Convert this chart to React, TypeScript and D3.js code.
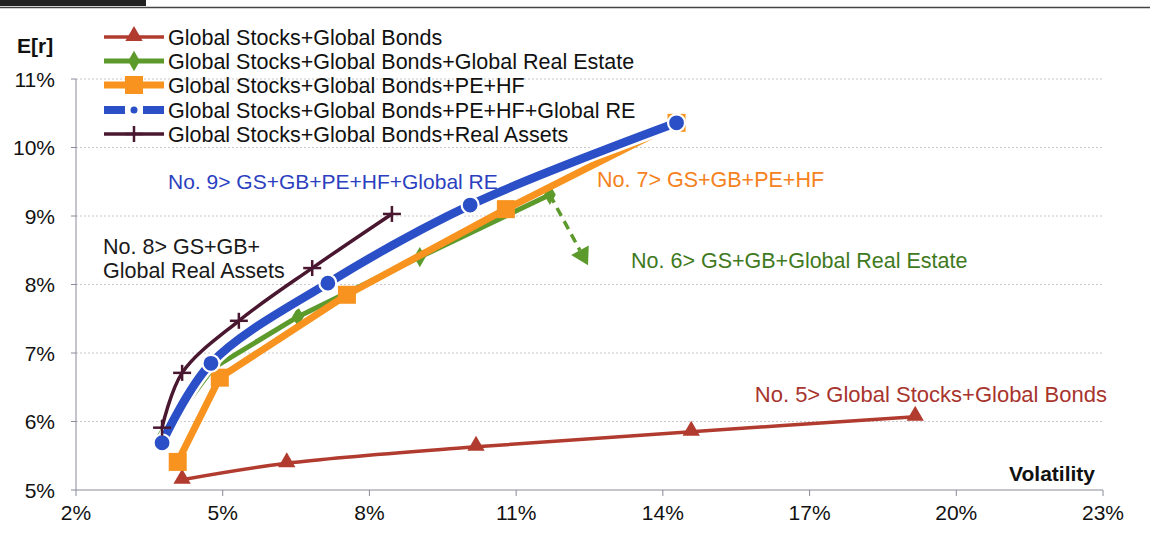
import React from "react";
import * as d3 from "d3";

// ---- data (volatility %, expected return %) ----
const xTicks = [2, 5, 8, 11, 14, 17, 20, 23];
const yTicks = [5, 6, 7, 8, 9, 10, 11];

const gsgbVol = [4.17, 6.31, 10.18, 14.58, 19.16];
const gsgbRet = [5.15, 5.39, 5.63, 5.85, 6.07];

const greVol = [3.78, 4.8, 6.54, 9.03, 11.69];
const greRet = [5.8, 6.78, 7.53, 8.4, 9.31];

const pehfVol = [4.08, 4.94, 7.54, 10.79, 14.28];
const pehfRet = [5.41, 6.64, 7.85, 9.1, 10.36];

const pehfreVol = [3.76, 4.76, 7.15, 10.06, 14.28];
const pehfreRet = [5.69, 6.85, 8.02, 9.16, 10.36];

const raVol = [3.76, 4.17, 5.33, 6.83, 8.46];
const raRet = [5.91, 6.71, 7.47, 8.24, 9.03];

const seriesNames = [
  "Global Stocks+Global Bonds",
  "Global Stocks+Global Bonds+Global Real Estate",
  "Global Stocks+Global Bonds+PE+HF",
  "Global Stocks+Global Bonds+PE+HF+Global RE",
  "Global Stocks+Global Bonds+Real Assets",
];

const arrowEnd = [12.47, 8.28];

type Pt = [number, number];
const zip = (a: number[], b: number[]): Pt[] => a.map((v, i) => [v, b[i]]);

const FONT = "'Liberation Sans', Arial, sans-serif";

const x = d3.scaleLinear().domain([2, 23]).range([76, 1103]);
const y = d3.scaleLinear().domain([5, 11]).range([490, 79]);

const COL = {
  red: "#b23b2f",
  green: "#5c9a2c",
  orange: "#f7931e",
  blue: "#2a4fc6",
  dark: "#4a1730",
};

function Marker({ kind, cx, cy }: { kind: string; cx: number; cy: number }) {
  if (kind === "tri") {
    const p = d3.symbol().type(d3.symbolTriangle).size(130)();
    return <path d={p!} transform={`translate(${cx},${cy - 1})`} fill={COL.red} />;
  }
  if (kind === "dia") {
    const p = d3.symbol().type(d3.symbolDiamond).size(120)();
    return <path d={p!} transform={`translate(${cx},${cy})`} fill={COL.green} />;
  }
  if (kind === "sq") {
    return <rect x={cx - 9} y={cy - 9} width={18} height={18} fill={COL.orange} />;
  }
  if (kind === "circ") {
    return <circle cx={cx} cy={cy} r={8.5} fill={COL.blue} stroke="#fff" strokeWidth={2.2} />;
  }
  // plus
  return (
    <g stroke={COL.dark} strokeWidth={2.5}>
      <line x1={cx - 9} x2={cx + 9} y1={cy} y2={cy} />
      <line x1={cx} x2={cx} y1={cy - 8} y2={cy + 8} />
    </g>
  );
}

export default function App() {
  const smooth = d3
    .line<Pt>()
    .x((d) => x(d[0]))
    .y((d) => y(d[1]))
    .curve(d3.curveCatmullRom.alpha(0.5));
  const straight = d3
    .line<Pt>()
    .x((d) => x(d[0]))
    .y((d) => y(d[1]));

  const red = zip(gsgbVol, gsgbRet);
  const green = zip(greVol, greRet);
  const orange = zip(pehfVol, pehfRet);
  const blue = zip(pehfreVol, pehfreRet);
  const dark = zip(raVol, raRet);

  const series = [
    { pts: red, color: COL.red, w: 3.5, kind: "tri", gen: smooth },
    { pts: green, color: COL.green, w: 5, kind: "dia", gen: straight },
    { pts: orange, color: COL.orange, w: 7, kind: "sq", gen: straight },
    { pts: blue, color: COL.blue, w: 8.5, kind: "circ", gen: smooth, halo: true },
    { pts: dark, color: COL.dark, w: 3.5, kind: "plus", gen: smooth },
  ];

  const gStart = green[green.length - 1];
  const ax1 = x(gStart[0]);
  const ay1 = y(gStart[1]);
  const ax2 = x(arrowEnd[0]);
  const ay2 = y(arrowEnd[1]);
  const ang = Math.atan2(ay2 - ay1, ax2 - ax1);
  const headLen = 17;
  const headW = 10;
  const bx = ax2 - headLen * Math.cos(ang);
  const by = ay2 - headLen * Math.sin(ang);
  const px = -Math.sin(ang);
  const py = Math.cos(ang);
  const head = `M${ax2},${ay2}L${bx + px * headW},${by + py * headW}L${bx - px * headW},${by - py * headW}Z`;

  const legendY = [37, 61, 85, 110, 134];
  const FS = 21;
  const LFS = 21.5;
  const AFS = 21.5;

  return (
    <svg
      width={1150}
      height={535}
      style={{ position: "absolute", left: 0, top: 0, background: "#fff" }}
      fontFamily={FONT}
    >
      <rect x={0} y={0} width={1150} height={535} fill="#fff" />
      {/* top decoration */}
      <rect x={0} y={0} width={146} height={6} fill="#222" />
      <line x1={0} x2={1150} y1={7.5} y2={7.5} stroke="#444" strokeWidth={1.5} />

      {/* gridlines */}
      {yTicks.slice(1).map((t) => (
        <line
          key={"g" + t}
          x1={x(2)}
          x2={x(23)}
          y1={y(t)}
          y2={y(t)}
          stroke="#c8c8c8"
          strokeWidth={1}
          strokeDasharray="2,2"
        />
      ))}

      {/* axes */}
      <line x1={x(2)} x2={x(2)} y1={y(11)} y2={y(5)} stroke="#8a8a9a" strokeWidth={1} />
      <line x1={x(2)} x2={x(23)} y1={y(5)} y2={y(5)} stroke="#8a8a9a" strokeWidth={1} />
      {yTicks.map((t) => (
        <g key={"yt" + t}>
          <line x1={x(2) - 5} x2={x(2)} y1={y(t)} y2={y(t)} stroke="#8a8a9a" />
          <text x={55} y={y(t) + 7.5} textAnchor="end" fontSize={FS} fill="#111">
            {t}%
          </text>
        </g>
      ))}
      {xTicks.map((t) => (
        <g key={"xt" + t}>
          <line x1={x(t)} x2={x(t)} y1={y(5)} y2={y(5) + 6} stroke="#8a8a9a" />
          <text x={x(t)} y={520} textAnchor="middle" fontSize={FS} fill="#111">
            {t}%
          </text>
        </g>
      ))}

      <text x={17} y={53} fontSize={FS} fontWeight="bold" fill="#111">
        E[r]
      </text>
      <text x={1095} y={481} fontSize={FS} fontWeight="bold" textAnchor="end" fill="#111">
        Volatility
      </text>

      {/* series lines */}
      {series.map((s, i) => (
        <g key={"s" + i}>
          {s.halo && (
            <path d={s.gen(s.pts)!} fill="none" stroke="#fff" strokeWidth={s.w + 5} strokeLinejoin="round" />
          )}
          <path
            d={s.gen(s.pts)!}
            fill="none"
            stroke={s.color}
            strokeWidth={s.w}
            strokeLinejoin="round"
            strokeLinecap="round"
          />
          {s.pts.map((p, j) => (
            <Marker key={j} kind={s.kind} cx={x(p[0])} cy={y(p[1])} />
          ))}
        </g>
      ))}

      {/* green arrow */}
      <line x1={ax1} y1={ay1} x2={bx} y2={by} stroke={COL.green} strokeWidth={3.5} strokeDasharray="9,6" />
      <path d={head} fill={COL.green} />

      {/* annotations */}
      <text x={168} y={189} fontSize={21} fill="#2b3fbf">
        No. 9&gt; GS+GB+PE+HF+Global RE
      </text>
      <text x={597} y={187} fontSize={AFS} fill="#f58220">
        No. 7&gt; GS+GB+PE+HF
      </text>
      <text x={631} y={268} fontSize={AFS} fill="#3f7a1e">
        No. 6&gt; GS+GB+Global Real Estate
      </text>
      <text x={103} y={254} fontSize={AFS} fill="#1a1a1a">
        No. 8&gt; GS+GB+
      </text>
      <text x={103} y={278} fontSize={AFS} fill="#1a1a1a">
        Global Real Assets
      </text>
      <text x={1107} y={402} fontSize={22} textAnchor="end" fill="#a8342e">
        No. 5&gt; Global Stocks+Global Bonds
      </text>

      {/* legend */}
      {seriesNames.map((name, i) => {
        const s = series[i];
        const ly = legendY[i];
        return (
          <g key={"l" + i}>
            {s.halo ? (
              <>
                <line x1={104} x2={164} y1={ly} y2={ly} stroke={s.color} strokeWidth={8} />
                <line x1={125} x2={143} y1={ly} y2={ly} stroke="#fff" strokeWidth={8} />
                <circle cx={134} cy={ly} r={3.5} fill={s.color} />
              </>
            ) : (
              <>
                <line x1={104} x2={164} y1={ly} y2={ly} stroke={s.color} strokeWidth={s.w} />
                <Marker kind={s.kind} cx={134} cy={ly} />
              </>
            )}
            <text x={168} y={ly + 7.5} fontSize={LFS} fill="#111">
              {name}
            </text>
          </g>
        );
      })}
    </svg>
  );
}
